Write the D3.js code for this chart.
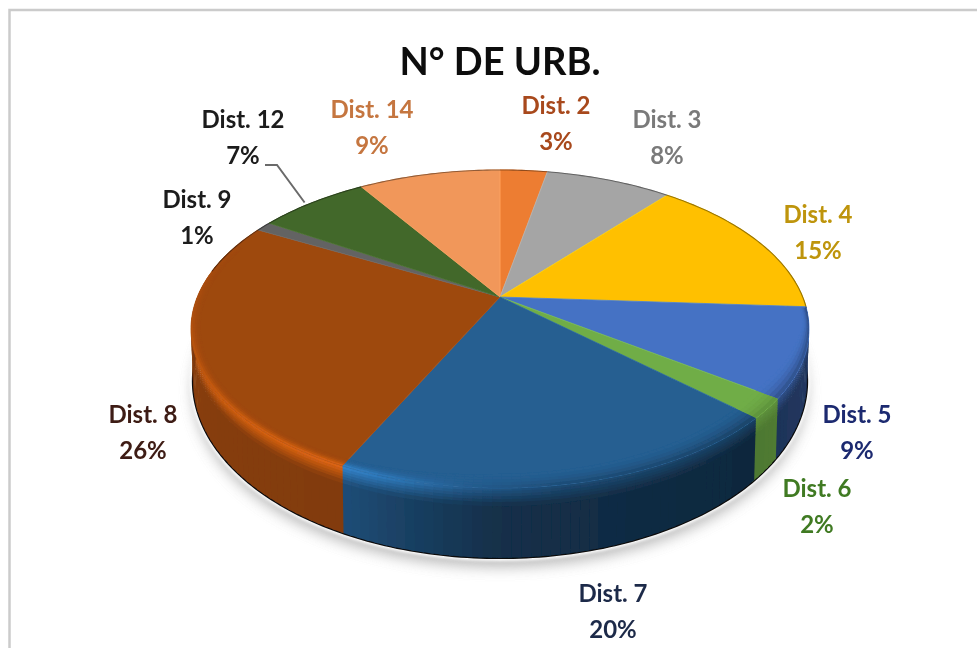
<!DOCTYPE html>
<html>
<head>
<meta charset="utf-8">
<script src="https://cdn.jsdelivr.net/npm/d3@7/dist/d3.min.js"></script>
<style>
html,body{margin:0;padding:0;background:#fff;overflow:hidden}
svg{display:block}
text{font-family:Lato,"Open Sans",sans-serif;font-weight:700;text-anchor:middle}
</style>
</head>
<body>
<svg id="c" width="977" height="648"></svg>
<script>
const titleText = "N° DE URB.";
const categories = ["Dist. 2","Dist. 3","Dist. 4","Dist. 5","Dist. 6","Dist. 7","Dist. 8","Dist. 9","Dist. 12","Dist. 14"];
const values = [3,8,15,9,2,20,26,1,7,9];
const sliceColors = ["#ED7D31","#A5A5A5","#FFC000","#4472C4","#70AD47","#255E91","#9E480E","#636363","#43682B","#F1975A"];
const labelColors = ["#A8481C","#7A7A7A","#BE9408","#1C2A70","#3F7A22","#1E2A48","#3E1A12","#1A1A1A","#1A1A1A","#C57640"];
const labelX = [556,667,818,857,817,613,143,197,243,372];
const labelY = [114,128,223,423,497,602,423,208,128,118];
const sideBoost = [1,1,1,1.05,1.65,1,1,1,1,1];

const svg = d3.select("#c");
const defs = svg.append("defs");
const addBlur=(id,s)=>defs.append("filter").attr("id",id).attr("x","-10%").attr("y","-10%").attr("width","120%").attr("height","130%")
  .append("feGaussianBlur").attr("stdDeviation",s);
addBlur("soft",0.5); addBlur("shadow",7); addBlur("halo",1.6);

// frame
svg.append("path").attr("d","M9.5,648V10H977").attr("fill","none").attr("stroke","#cbcbcb").attr("stroke-width",2.5);

const root = svg.append("g").attr("filter","url(#soft)");

// perspective projection of the disc: two planes sharing one tilt
const tilt = 0.201;
const topPlane = {cx:500, cy:297, a:302.7, b:152.6};
const basePlane = {cx:500, cy:345.4, a:300.7, b:169.8};
const project = (pl,r,ang)=>{
  const X=r*Math.sin(ang), Y=r*Math.cos(ang), w=1+tilt*Y;
  return [pl.cx+pl.a*X/w, pl.cy-pl.b*Y/w];
};
const lerp=(p,q,t)=>[p[0]+(q[0]-p[0])*t,p[1]+(q[1]-p[1])*t];
const rad=d=>d*Math.PI/180, deg=r=>r*180/Math.PI;

const arcs = d3.pie().sort(null).value(d=>d)(values);
const line = d3.line();
const ringPts=(pl,r,a0,a1,step=rad(1))=>{
  const n=Math.max(2,Math.ceil((a1-a0)/step));
  return d3.range(n+1).map(i=>project(pl,r,a0+(a1-a0)*i/n));
};

// ground shadow
const full = ringPts(basePlane,1,0,2*Math.PI);
root.append("path").attr("d",line(full)+"Z").attr("transform","translate(0,9)")
  .attr("fill","#8c8c8c").attr("opacity",0.6).attr("filter","url(#shadow)");
root.append("path").attr("d",line(full)+"Z").attr("fill","#fff").attr("stroke","#fff").attr("stroke-width",6).attr("filter","url(#halo)");

// bottom edge
root.append("path").attr("d",line(ringPts(basePlane,1,rad(84),rad(282)))).attr("fill","none").attr("stroke","#0a0a0a").attr("stroke-width",2.4);

const darkness = d3.scaleLinear().domain([84,100,133,180,205,255,285]).range([0.30,0.48,0.42,0.5,0.82,0.86,0.62]).clamp(true);
const glow = d3.scaleLinear().domain([140,185,205,235,265,290]).range([0,0.1,0.6,0.45,0.15,0.05]).clamp(true);
const darkRim = d3.scaleLinear().domain([95,125,170,195]).range([0.7,0.55,0.45,0]).clamp(true);
const bevelWidth = d3.scaleLinear().domain([100,125,180,205]).range([0.02,0.07,0.06,0.03]).clamp(true);

const STEP = rad(1.5);
const wallBands = [[0,.04],[.04,.08],[.08,.12],[.12,.16],[.16,.2],[.2,.26],[.26,1]];
const topFractions = [[0,.2],[.2,.4],[.4,.6],[.6,.8],[.8,1]];
const visA0=rad(80), visA1=rad(290);

function rampColor(base,i,pos,adeg){
  // pos: -1 inner bevel start, 0 rim, 1 fully on wall
  const b=d3.color(base);
  const f=Math.min(1,darkness(adeg)*sideBoost[i]);
  const wall=d3.rgb(b.r*f,b.g*f,b.b*f);
  const hi0=d3.interpolateRgb(b,b.brighter(1.5))(glow(adeg));
  const hi=d3.interpolateRgb(hi0,wall)(darkRim(adeg));
  if(pos<=0) return d3.interpolateRgb(b,hi)(Math.pow(1+pos,2));
  return d3.interpolateRgb(hi,wall)(Math.min(1,pos));
}

function eachStep(d,fn,lo=visA0){
  const a0=Math.max(d.startAngle,lo), a1=Math.min(d.endAngle,visA1);
  if(a1<=a0) return;
  const n=Math.ceil((a1-a0)/STEP);
  for(let k=0;k<n;k++) fn(a0+(a1-a0)*k/n, a0+(a1-a0)*(k+1)/n);
}

// walls: every quad overlaps its neighbour by a little, so no seams appear
const walls=root.append("g");
arcs.forEach((d,i)=>eachStep(d,(u,v)=>{
  const mid=deg((u+v)/2), w=Math.min(v+STEP*0.4,visA1);
  wallBands.forEach(([t0,t1])=>{
    const e=Math.min(1,t1+.015);
    const pts=[lerp(project(topPlane,1,u),project(basePlane,1,u),t0),
               lerp(project(topPlane,1,w),project(basePlane,1,w),t0),
               lerp(project(topPlane,1,w),project(basePlane,1,w),e),
               lerp(project(topPlane,1,u),project(basePlane,1,u),e)];
    const c=rampColor(sliceColors[i],i,((t0+t1)/2)/.26,mid);
    walls.append("path").attr("d",line(pts)+"Z").attr("fill",c);
  });
}));

// top faces
const tops=root.append("g");
arcs.forEach((d,i)=>{
  const pts=[project(topPlane,0,0),...ringPts(topPlane,1,d.startAngle,d.endAngle)];
  tops.append("path").attr("d",line(pts)+"Z").attr("fill",sliceColors[i])
    .attr("stroke",d3.color(sliceColors[i]).brighter(0.25)).attr("stroke-width",0.8).attr("stroke-linejoin","round");
});

// bevel on the top face, only on the front part of the rim
const bevel=root.append("g");
arcs.forEach((d,i)=>eachStep(d,(u,v)=>{
  const mid=deg((u+v)/2), w=Math.min(v+STEP*0.4,d.endAngle), bw=bevelWidth(mid);
  topFractions.forEach(([f0,f1])=>{
    const r0=1-bw*(1-f0), r1=Math.min(1,1-bw*(1-f1)+.002);
    const pts=[project(topPlane,r0,u),project(topPlane,r0,w),project(topPlane,r1,w),project(topPlane,r1,u)];
    const c=rampColor(sliceColors[i],i,-(1-(f0+f1)/2),mid);
    bevel.append("path").attr("d",line(pts)+"Z").attr("fill",c);
  });
},rad(94)));

// thin dark back rim
arcs.forEach((d,i)=>{
  const c=d3.color(sliceColors[i]).darker(1.4);
  const back=(a0,a1)=>{ if(a1>a0) root.append("path").attr("d",line(ringPts(topPlane,1,a0,a1))).attr("fill","none").attr("stroke",c).attr("stroke-width",1.1); };
  back(d.startAngle,Math.min(d.endAngle,rad(94)));
  back(Math.max(d.startAngle,rad(280)),d.endAngle);
});

// title
root.append("text").attr("x",500).attr("y",75).attr("font-size",38).attr("fill","#111").text(titleText);

// labels
categories.forEach((name,i)=>{
  root.append("text").attr("x",labelX[i]).attr("y",labelY[i]).attr("font-size",24).attr("fill",labelColors[i]).text(name);
  root.append("text").attr("x",labelX[i]).attr("y",labelY[i]+36).attr("font-size",24).attr("fill",labelColors[i]).text(values[i]+"%");
});

// leader line for Dist. 12
const i12=categories.indexOf("Dist. 12");
const rimPt=project(topPlane,1,(arcs[i12].startAngle+arcs[i12].endAngle)/2);
const lx=labelX[i12]+22, ly=labelY[i12]+37;
root.append("path").attr("d",line([[lx,ly],[lx+12,ly],[rimPt[0]-8,rimPt[1]]])).attr("fill","none").attr("stroke","#6b6b6b").attr("stroke-width",2);
</script>
</body>
</html>
